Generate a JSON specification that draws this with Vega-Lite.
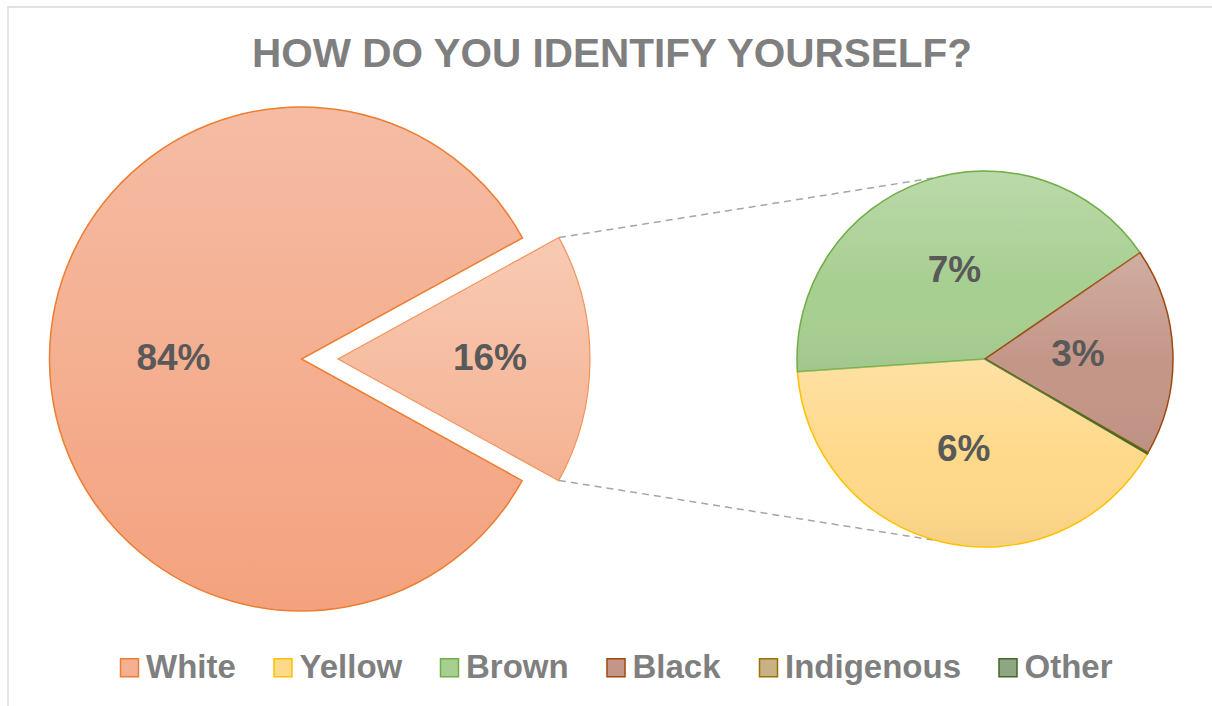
{
  "$schema": "https://vega.github.io/schema/vega-lite/v6.json",
  "width": 1212,
  "height": 706,
  "padding": 0,
  "autosize": {"type": "none"},
  "background": "white",
  "config": {"view": {"stroke": null}, "font": "Liberation Sans"},
  "data": {
    "values": [
      {"race": "White", "share": 0.84, "pie": "main"},
      {"race": "Yellow", "share": 0.0649, "pie": "split"},
      {"race": "Brown", "share": 0.0665, "pie": "split"},
      {"race": "Black", "share": 0.0286, "pie": "split"},
      {"race": "Indigenous", "share": 0.0001, "pie": "split"},
      {"race": "Other", "share": 0.0001, "pie": "split"}
    ]
  },
  "resolve": {"scale": {"theta": "independent"}},
  "layer": [
    {
      "data": {"values": [{}]},
      "mark": {"type": "rect", "fill": "transparent", "stroke": "#d9d9d9", "strokeWidth": 1.3},
      "encoding": {
        "x": {"datum": 8, "type": "quantitative", "scale": {"domain": [0, 1212], "nice": false, "zero": false}, "axis": null},
        "x2": {"datum": 1230},
        "y": {"datum": 7, "type": "quantitative", "scale": {"domain": [0, 706], "nice": false, "zero": false, "reverse": true}, "axis": null},
        "y2": {"datum": 730}
      }
    },
    {
      "data": {"values": [{}]},
      "mark": {"type": "rule", "stroke": "#a6a6a6", "strokeWidth": 1.5, "strokeDash": [7, 5]},
      "encoding": {
        "x": {"datum": 559, "type": "quantitative"},
        "y": {"datum": 237.6, "type": "quantitative"},
        "x2": {"datum": 933},
        "y2": {"datum": 178}
      }
    },
    {
      "data": {"values": [{}]},
      "mark": {"type": "rule", "stroke": "#a6a6a6", "strokeWidth": 1.5, "strokeDash": [7, 5]},
      "encoding": {
        "x": {"datum": 559, "type": "quantitative"},
        "y": {"datum": 480.4, "type": "quantitative"},
        "x2": {"datum": 933},
        "y2": {"datum": 540}
      }
    },
    {
      "transform": [{"aggregate": [{"op": "sum", "field": "share", "as": "share"}], "groupby": ["pie"]}],
      "mark": {
        "type": "arc", "outerRadius": 252, "stroke": "#ED7D31", "strokeWidth": 1.5,
        "fill": {"gradient": "linear", "x1": 0, "y1": 0, "x2": 0, "y2": 1, "stops": [{"offset": 0, "color": "#f5bca4"}, {"offset": 1, "color": "#f4a27e"}]}
      },
      "encoding": {
        "x": {"datum": 301.5, "type": "quantitative"},
        "y": {"datum": 359, "type": "quantitative"},
        "theta": {"field": "share", "type": "quantitative", "stack": true, "scale": {"domain": [0, 1], "range": [1.0681, 7.3513]}},
        "order": {"field": "pie", "type": "ordinal", "sort": "descending"},
        "detail": {"field": "pie"},
        "opacity": {"condition": {"test": "datum.pie === 'main'", "value": 1}, "value": 0}
      }
    },
    {
      "transform": [{"aggregate": [{"op": "sum", "field": "share", "as": "share"}], "groupby": ["pie"]}],
      "mark": {
        "type": "arc", "outerRadius": 252, "stroke": "#f0945c", "strokeWidth": 1.2,
        "fill": {"gradient": "linear", "x1": 0, "y1": 0, "x2": 0, "y2": 1, "stops": [{"offset": 0, "color": "#f8cab3"}, {"offset": 1, "color": "#f5b293"}]}
      },
      "encoding": {
        "x": {"datum": 338, "type": "quantitative"},
        "y": {"datum": 359, "type": "quantitative"},
        "theta": {"field": "share", "type": "quantitative", "stack": true, "scale": {"domain": [0, 1], "range": [1.0681, 7.3513]}},
        "order": {"field": "pie", "type": "ordinal", "sort": "descending"},
        "detail": {"field": "pie"},
        "opacity": {"condition": {"test": "datum.pie === 'split'", "value": 1}, "value": 0}
      }
    },
    {
      "transform": [{"aggregate": [{"op": "sum", "field": "share", "as": "share"}], "groupby": ["pie"]}],
      "mark": {"type": "text", "radius": 128, "fontSize": 37, "fontWeight": "bold", "fill": "#595959", "font": "Liberation Sans"},
      "encoding": {
        "x": {"datum": 301.5, "type": "quantitative"},
        "y": {"datum": 359, "type": "quantitative"},
        "theta": {"field": "share", "type": "quantitative", "stack": true, "scale": {"domain": [0, 1], "range": [1.0681, 7.3513]}},
        "order": {"field": "pie", "type": "ordinal", "sort": "descending"},
        "detail": {"field": "pie"},
        "text": {"condition": {"test": "datum.pie !== 'main'", "value": ""}, "field": "share", "type": "quantitative", "format": ".0%"}
      }
    },
    {
      "transform": [{"aggregate": [{"op": "sum", "field": "share", "as": "share"}], "groupby": ["pie"]}],
      "mark": {"type": "text", "radius": 152, "fontSize": 37, "fontWeight": "bold", "fill": "#595959", "font": "Liberation Sans"},
      "encoding": {
        "x": {"datum": 338, "type": "quantitative"},
        "y": {"datum": 359, "type": "quantitative"},
        "theta": {"field": "share", "type": "quantitative", "stack": true, "scale": {"domain": [0, 1], "range": [1.0681, 7.3513]}},
        "order": {"field": "pie", "type": "ordinal", "sort": "descending"},
        "detail": {"field": "pie"},
        "text": {"condition": {"test": "datum.pie !== 'split'", "value": ""}, "field": "share", "type": "quantitative", "format": ".0%"}
      }
    },
    {
      "transform": [{"filter": {"field": "pie", "equal": "split"}}, {"window": [{"op": "row_number", "as": "idx"}]}],
      "mark": {"type": "arc", "outerRadius": 188, "strokeWidth": 1.5},
      "encoding": {
        "x": {"datum": 985, "type": "quantitative"},
        "y": {"datum": 359, "type": "quantitative"},
        "theta": {"field": "share", "type": "quantitative", "stack": true, "scale": {"range": [2.0996, 8.3828]}},
        "order": {"field": "idx", "type": "quantitative"},
        "fill": {
          "field": "race", "type": "nominal",
          "scale": {"domain": ["White", "Yellow", "Brown", "Black", "Indigenous", "Other"], "range": ["#f5b094", "#ffd98a", "#a8cf92", "#c49688", "#c9b186", "#8fa683"]},
          "legend": {"orient": "none", "legendX": 113, "legendY": 651, "direction": "horizontal", "columns": 6, "title": null, "symbolType": "square", "symbolSize": 324, "symbolStrokeWidth": 1.5, "labelFont": "Liberation Sans", "labelFontWeight": "bold", "labelFontSize": 33, "labelColor": "#7f7f7f", "labelOffset": 0, "columnPadding": 30.5, "labelLimit": 400, "padding": 0}
        },
        "stroke": {
          "field": "race", "type": "nominal",
          "scale": {"domain": ["White", "Yellow", "Brown", "Black", "Indigenous", "Other"], "range": ["#ED7D31", "#FFC000", "#70AD47", "#9E480E", "#997300", "#43682B"]},
          "legend": {"orient": "none", "legendX": 113, "legendY": 651, "direction": "horizontal", "columns": 6, "title": null, "symbolType": "square", "symbolSize": 324, "symbolStrokeWidth": 1.5, "labelFont": "Liberation Sans", "labelFontWeight": "bold", "labelFontSize": 33, "labelColor": "#7f7f7f", "labelOffset": 0, "columnPadding": 30.5, "labelLimit": 400, "padding": 0}
        }
      }
    },
    {
      "transform": [{"filter": {"field": "pie", "equal": "split"}}, {"window": [{"op": "row_number", "as": "idx"}]}],
      "mark": {
        "type": "arc", "outerRadius": 187, "strokeWidth": 0,
        "fill": {"gradient": "linear", "x1": 0, "y1": 0, "x2": 0, "y2": 1, "stops": [{"offset": 0, "color": "rgba(255,255,255,0.22)"}, {"offset": 0.55, "color": "rgba(255,255,255,0)"}, {"offset": 1, "color": "rgba(0,0,0,0.04)"}]}
      },
      "encoding": {
        "x": {"datum": 985, "type": "quantitative"},
        "y": {"datum": 359, "type": "quantitative"},
        "theta": {"field": "share", "type": "quantitative", "stack": true, "scale": {"range": [2.0996, 8.3828]}},
        "order": {"field": "idx", "type": "quantitative"},
        "detail": {"field": "race"}
      }
    },
    {
      "transform": [{"filter": {"field": "pie", "equal": "split"}}, {"window": [{"op": "row_number", "as": "idx"}]}],
      "mark": {"type": "text", "radius": 93, "fontSize": 37, "fontWeight": "bold", "fill": "#595959", "font": "Liberation Sans"},
      "encoding": {
        "x": {"datum": 985, "type": "quantitative"},
        "y": {"datum": 359, "type": "quantitative"},
        "theta": {"field": "share", "type": "quantitative", "stack": true, "scale": {"range": [2.0996, 8.3828]}},
        "order": {"field": "idx", "type": "quantitative"},
        "detail": {"field": "race"},
        "text": {"condition": {"test": "datum.share < 0.01", "value": ""}, "field": "share", "type": "quantitative", "format": ".0%"}
      }
    },
    {
      "data": {"values": [{}]},
      "mark": {"type": "text", "text": "HOW DO YOU IDENTIFY YOURSELF?", "fontSize": 40.5, "fontWeight": "bold", "fill": "#7f7f7f", "font": "Liberation Sans", "align": "center", "baseline": "alphabetic"},
      "encoding": {
        "x": {"datum": 612, "type": "quantitative"},
        "y": {"datum": 67, "type": "quantitative"}
      }
    }
  ]
}
